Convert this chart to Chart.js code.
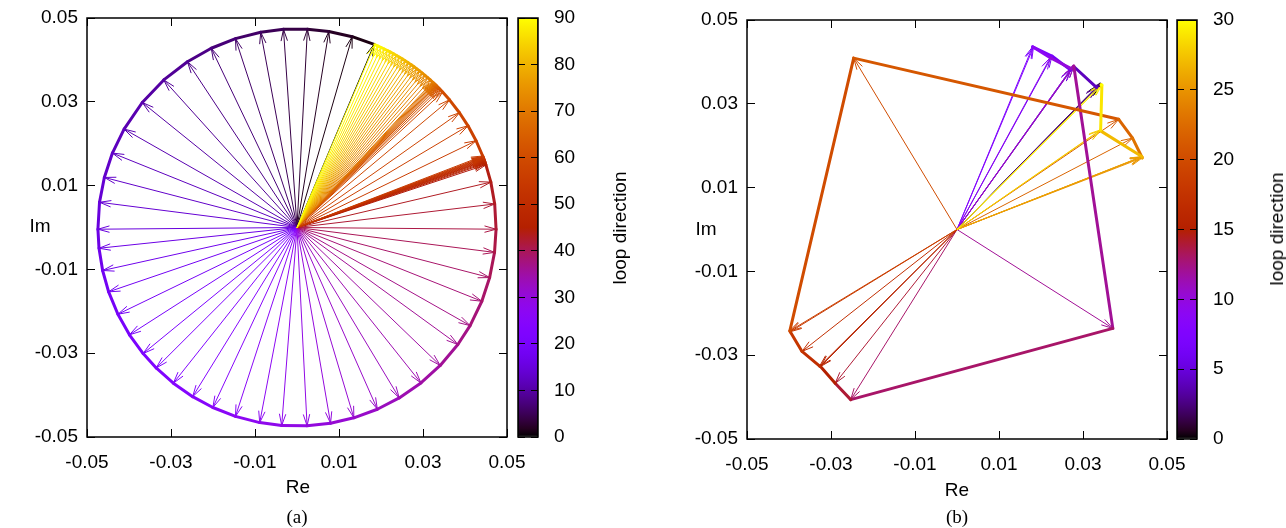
<!DOCTYPE html>
<html>
<head>
<meta charset="utf-8">
<script src="https://cdn.jsdelivr.net/npm/chart.js@4.4.1/dist/chart.umd.min.js"></script>
<style>
  body { margin: 0; background: #fff; width: 1286px; height: 528px; position: relative; overflow: hidden;
         font-family: "Liberation Sans", Arial, sans-serif; }
  canvas { position: absolute; }
  .lbl { position: absolute; font-size: 19px; color: #000; white-space: nowrap; transform: translate(-50%, -50%); }
  .rot { transform: translate(-50%, -50%) rotate(-90deg); }
  .cap { font-family: "Liberation Serif", "Times New Roman", serif; }
</style>
</head>
<body>
<canvas id="mainA" width="540" height="480" style="left:0;top:0"></canvas>
<canvas id="barA" width="140" height="480" style="left:500px;top:0"></canvas>
<canvas id="mainB" width="540" height="480" style="left:660px;top:2px"></canvas>
<canvas id="barB" width="126" height="480" style="left:1160px;top:2px"></canvas>

<div class="lbl" style="left:40px;top:226px">Im</div>
<div class="lbl" style="left:298px;top:487px">Re</div>
<div class="lbl rot" style="left:620px;top:228px">loop direction</div>
<div class="lbl cap" style="left:297px;top:517px">(a)</div>

<div class="lbl" style="left:706px;top:229px">Im</div>
<div class="lbl" style="left:957px;top:490px">Re</div>
<div class="lbl rot" style="left:1277px;top:229px">loop direction</div>
<div class="lbl cap" style="left:957px;top:517px">(b)</div>

<script>
// (a) vector tips, indices 0..90 (loop direction)
const reA = [
  0.01837, 0.01314, 0.00758, 0.00248, -0.00322, -0.00864, -0.01465, -0.02041, -0.02609, -0.03172,
  -0.03684, -0.04117, -0.04395, -0.04587, -0.04702, -0.04740, -0.04714, -0.04628, -0.04485, -0.04264,
  -0.03989, -0.03663, -0.03352, -0.02944, -0.02484, -0.02003, -0.01465, -0.00888, -0.00364, 0.00240,
  0.00799, 0.01354, 0.01913, 0.02434, 0.02951, 0.03410, 0.03830, 0.04121, 0.04401, 0.04587,
  0.04703, 0.04740, 0.04707, 0.04615, 0.04498, 0.04487, 0.04479, 0.04471, 0.04466, 0.04460,
  0.04454, 0.04448, 0.04443, 0.04437, 0.04431, 0.04422, 0.04264, 0.04072, 0.03868, 0.03631,
  0.03467, 0.03421, 0.03387, 0.03357, 0.03334, 0.03317, 0.03299, 0.03281, 0.03263, 0.03245,
  0.03226, 0.03172, 0.03110, 0.03047, 0.02983, 0.02918, 0.02853, 0.02786, 0.02719, 0.02651,
  0.02581, 0.02512, 0.02441, 0.02370, 0.02298, 0.02225, 0.02152, 0.02078, 0.02003, 0.01928,
  0.01852
];
const imA = [
  0.04370, 0.04554, 0.04679, 0.04733, 0.04729, 0.04661, 0.04508, 0.04278, 0.03957, 0.03522,
  0.02983, 0.02349, 0.01776, 0.01195, 0.00602, -0.00041, -0.00495, -0.01026, -0.01535, -0.02070,
  -0.02561, -0.03008, -0.03352, -0.03715, -0.04037, -0.04296, -0.04508, -0.04656, -0.04726, -0.04734,
  -0.04672, -0.04542, -0.04337, -0.04067, -0.03710, -0.03293, -0.02793, -0.02341, -0.01760, -0.01195,
  -0.00594, -0.00041, 0.00561, 0.01083, 0.01496, 0.01528, 0.01551, 0.01575, 0.01590, 0.01605,
  0.01621, 0.01637, 0.01652, 0.01668, 0.01683, 0.01706, 0.02070, 0.02427, 0.02739, 0.03047,
  0.03233, 0.03281, 0.03317, 0.03346, 0.03369, 0.03387, 0.03404, 0.03421, 0.03438, 0.03455,
  0.03472, 0.03522, 0.03577, 0.03631, 0.03684, 0.03735, 0.03785, 0.03835, 0.03883, 0.03929,
  0.03975, 0.04020, 0.04063, 0.04105, 0.04146, 0.04185, 0.04223, 0.04260, 0.04296, 0.04330,
  0.04363
];

// (b) vector tips, indices 0..30
const reB = [
  0.0341, 0.0338, 0.0334, 0.0332, 0.0278, 0.0270, 0.0226, 0.0180, 0.0182, 0.0222,
  0.0272, 0.0278, 0.0371, -0.0253, -0.0290, -0.0325, -0.0327, -0.0369, -0.0397, -0.0398,
  -0.0246, 0.0385, 0.0418, 0.0440, 0.0439, 0.0441, 0.0440, 0.0341, 0.0342, 0.0345,
  0.0343
];
const imB = [
  0.0347, 0.0344, 0.0342, 0.0339, 0.0389, 0.0381, 0.0414, 0.0436, 0.0435, 0.0410,
  0.0384, 0.0390, -0.0236, -0.0406, -0.0367, -0.0327, -0.0326, -0.0291, -0.0244, -0.0242,
  0.0409, 0.0263, 0.0218, 0.0173, 0.0173, 0.0171, 0.0174, 0.0236, 0.0238, 0.0345,
  0.0346
];

const axisTicks = [-0.05, -0.03, -0.01, 0.01, 0.03, 0.05];
const axisTickLabels = ['-0.05', '-0.03', '-0.01', '0.01', '0.03', '0.05'];
const cbTicksA = [0, 10, 20, 30, 40, 50, 60, 70, 80, 90];
const cbTicksB = [0, 5, 10, 15, 20, 25, 30];

const tickFont = { family: 'Liberation Sans', size: 19 };

// gnuplot default palette (rgbformulae 7,5,15)
function palette(t) {
  t = Math.min(1, Math.max(0, t));
  const r = Math.sqrt(t), g = t * t * t, b = Math.max(0, Math.sin(2 * Math.PI * t));
  return `rgb(${Math.round(r * 255)},${Math.round(g * 255)},${Math.round(b * 255)})`;
}

// open arrow heads at the tip of each vector
const arrowHeads = {
  id: 'arrowHeads',
  afterDatasetDraw(chart, args) {
    const ds = chart.data.datasets[args.index];
    if (!ds.arrow) return;
    const p0 = args.meta.data[0], p1 = args.meta.data[1];
    const ang = Math.atan2(p1.y - p0.y, p1.x - p0.x);
    const len = 12, spread = 0.27;
    const ctx = chart.ctx;
    ctx.save();
    ctx.strokeStyle = ds.borderColor;
    ctx.lineWidth = 1;
    ctx.beginPath();
    ctx.moveTo(p1.x - len * Math.cos(ang - spread), p1.y - len * Math.sin(ang - spread));
    ctx.lineTo(p1.x, p1.y);
    ctx.lineTo(p1.x - len * Math.cos(ang + spread), p1.y - len * Math.sin(ang + spread));
    ctx.stroke();
    ctx.restore();
  }
};

// box around the plot area
const frame = {
  id: 'frame',
  afterDraw(chart) {
    const { ctx, chartArea: a } = chart;
    ctx.save();
    ctx.strokeStyle = '#000';
    ctx.lineWidth = 1.5;
    ctx.strokeRect(a.left, a.top, a.right - a.left, a.bottom - a.top);
    ctx.restore();
  }
};

// fixed axis boxes so the plot area lands where it should
function fixX(h) {
  return s => { s.height = h; s.paddingLeft = 0; s.paddingRight = 0; };
}
function fixY(w) {
  return s => { s.width = w; s.paddingTop = 0; s.paddingBottom = 0; };
}

function makeMain(id, re, im) {
  const n = re.length - 1;
  const datasets = re.map((x, i) => ({
    data: [{ x: 0, y: 0 }, { x: x, y: im[i] }],
    borderColor: palette(i / n),
    borderWidth: 1,
    showLine: true,
    arrow: true,
    order: n - i + 1
  }));
  // the loop through the vector tips
  datasets.push({
    data: re.map((x, i) => ({ x: x, y: im[i] })),
    borderColor: palette(0),
    borderWidth: 3,
    showLine: true,
    borderJoinStyle: 'round',
    borderCapStyle: 'round',
    segment: { borderColor: c => palette(c.p1DataIndex / n) },
    order: 0
  });

  new Chart(document.getElementById(id), {
    type: 'scatter',
    data: { datasets },
    options: {
      responsive: false,
      animation: false,
      devicePixelRatio: 1,
      elements: { point: { radius: 0, hoverRadius: 0 }, line: { tension: 0 } },
      layout: { padding: { top: 18, right: 33, left: 0, bottom: 0 } },
      plugins: { legend: { display: false }, tooltip: { enabled: false } },
      scales: {
        x: {
          type: 'linear', min: -0.05, max: 0.05,
          afterBuildTicks: s => { s.ticks = axisTicks.map(v => ({ value: v })); },
          afterFit: fixX(43),
          ticks: { callback: (v, i) => axisTickLabels[i], font: tickFont, color: '#000', padding: 14, maxRotation: 0, autoSkip: false },
          grid: { drawTicks: false, color: '#000', lineWidth: 1 },
          border: { display: false, dash: [8, 403] }
        },
        y: {
          type: 'linear', min: -0.05, max: 0.05,
          afterBuildTicks: s => { s.ticks = axisTicks.map(v => ({ value: v })); },
          afterFit: fixY(87),
          ticks: { callback: (v, i) => axisTickLabels[i], font: tickFont, color: '#000', padding: 9, autoSkip: false },
          grid: { drawTicks: false, color: '#000', lineWidth: 1 },
          border: { display: false, dash: [8, 404] }
        }
      }
    },
    plugins: [arrowHeads, frame]
  });
}

function cbGradient(chart) {
  const a = chart.chartArea;
  if (!a) return '#000';
  const g = chart.ctx.createLinearGradient(0, a.bottom, 0, a.top);
  for (let k = 0; k <= 50; k++) g.addColorStop(k / 50, palette(k / 50));
  return g;
}

function makeBar(id, ticks, padLeft, axisWidth) {
  const max = ticks[ticks.length - 1];
  new Chart(document.getElementById(id), {
    type: 'bar',
    data: {
      labels: [''],
      datasets: [{
        data: [max],
        backgroundColor: c => cbGradient(c.chart),
        borderColor: '#000',
        borderWidth: 1,
        borderSkipped: false,
        barPercentage: 1,
        categoryPercentage: 1
      }]
    },
    options: {
      responsive: false,
      animation: false,
      devicePixelRatio: 1,
      layout: { padding: { top: 18, bottom: 43, left: padLeft, right: 0 } },
      plugins: { legend: { display: false }, tooltip: { enabled: false } },
      scales: {
        x: { display: false },
        y: {
          position: 'right', min: 0, max: max, z: 1,
          afterBuildTicks: s => { s.ticks = ticks.map(v => ({ value: v })); },
          afterFit: fixY(axisWidth),
          ticks: { font: tickFont, color: '#000', padding: 16, autoSkip: false },
          grid: { drawTicks: false, color: '#000', lineWidth: 1, z: 1 },
          border: { display: false, dash: [7, 6] }
        }
      }
    },
    plugins: [frame]
  });
}

makeMain('mainA', reA, imA);
makeBar('barA', cbTicksA, 18, 102);
makeMain('mainB', reB, imB);
makeBar('barB', cbTicksB, 17, 89);
</script>
</body>
</html>
